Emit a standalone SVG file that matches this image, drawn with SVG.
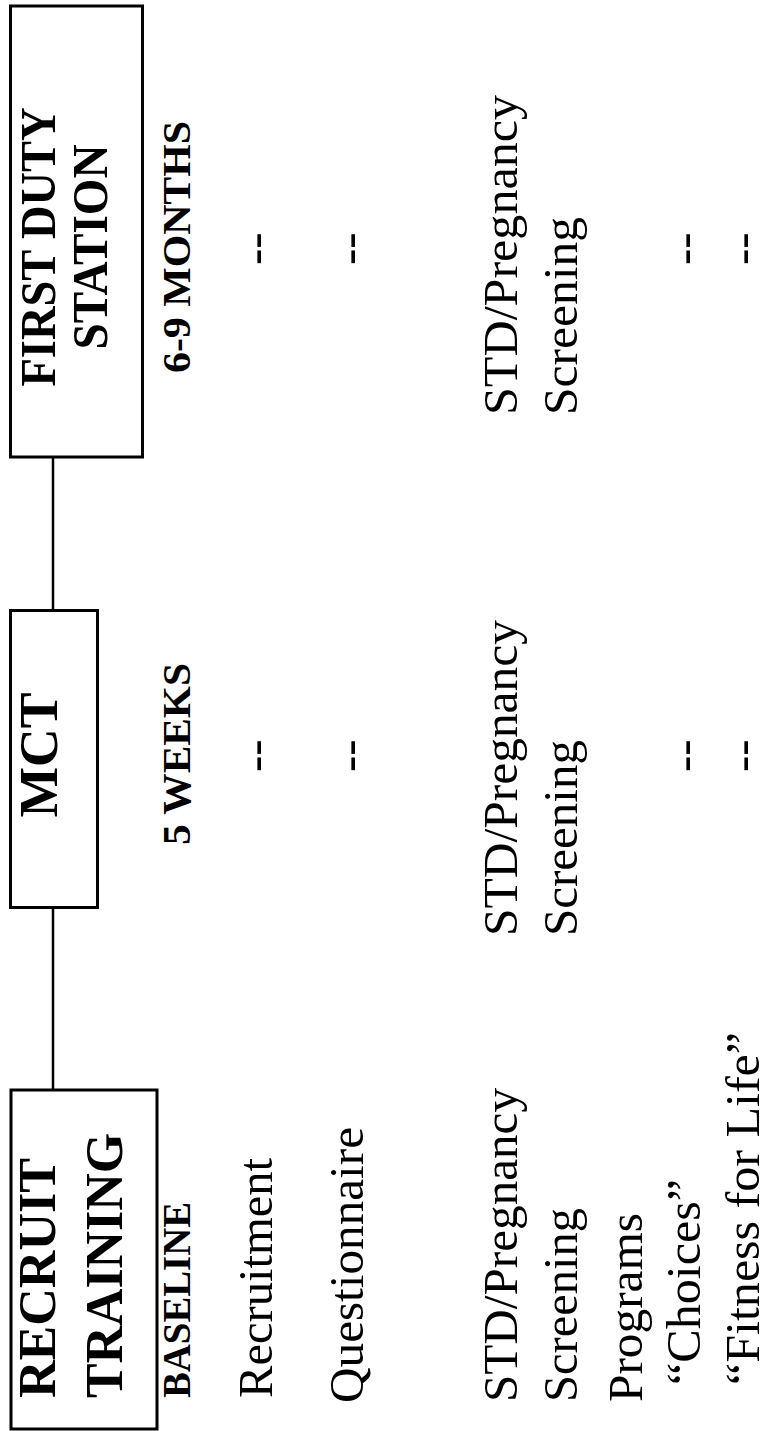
<svg xmlns="http://www.w3.org/2000/svg" width="768" height="1431" viewBox="0 0 768 1431">
<style>
text{font-family:"Liberation Serif","Times New Roman",serif;fill:#000}
.h{font-weight:bold}
.box{fill:#fff;stroke:#000;stroke-width:3}
.con{stroke:#000;stroke-width:2.5;fill:none}
.r{font-size:49px}
.d{font-size:49px}
</style>
<rect width="768" height="1431" fill="#fff"/>
<g id="connectors">
<line class="con" x1="53" y1="458" x2="53" y2="610"/>
<line class="con" x1="53" y1="908" x2="53" y2="1090"/>
</g>
<g id="node-first-duty">
<rect class="box" x="10.5" y="6" width="132" height="451"/>
<text class="h" font-size="50" text-anchor="middle" textLength="279" lengthAdjust="spacingAndGlyphs" transform="translate(55,247) rotate(-90)">FIRST DUTY</text>
<text class="h" font-size="50" text-anchor="middle" textLength="205" lengthAdjust="spacingAndGlyphs" transform="translate(107,247) rotate(-90)">STATION</text>
</g>
<g id="node-mct">
<rect class="box" x="10.5" y="610.5" width="87" height="297"/>
<text class="h" font-size="54" text-anchor="middle" textLength="125" lengthAdjust="spacingAndGlyphs" transform="translate(57,755) rotate(-90)">MCT</text>
</g>
<g id="node-recruit">
<rect class="box" x="11" y="1090" width="146" height="339"/>
<text class="h" font-size="52" textLength="240" lengthAdjust="spacingAndGlyphs" transform="translate(55,1398) rotate(-90)">RECRUIT</text>
<text class="h" font-size="52" textLength="265" lengthAdjust="spacingAndGlyphs" transform="translate(122,1398) rotate(-90)">TRAINING</text>
</g>
<g id="col-baseline">
<text class="h" font-size="41" textLength="196" lengthAdjust="spacingAndGlyphs" transform="translate(190,1398) rotate(-90)">BASELINE</text>
<text class="r" textLength="240" lengthAdjust="spacingAndGlyphs" transform="translate(272,1398) rotate(-90)">Recruitment</text>
<text class="r" textLength="276" lengthAdjust="spacingAndGlyphs" transform="translate(363,1403) rotate(-90)">Questionnaire</text>
<text class="r" textLength="314" lengthAdjust="spacingAndGlyphs" transform="translate(517,1402) rotate(-90)">STD/Pregnancy</text>
<text class="r" textLength="194" lengthAdjust="spacingAndGlyphs" transform="translate(577,1402) rotate(-90)">Screening</text>
<text class="r" textLength="189" lengthAdjust="spacingAndGlyphs" transform="translate(642,1402) rotate(-90)">Programs</text>
<text class="r" textLength="206" lengthAdjust="spacingAndGlyphs" transform="translate(700,1385) rotate(-90)">“Choices”</text>
<text class="r" font-size="48" textLength="353" lengthAdjust="spacingAndGlyphs" transform="translate(759,1385) rotate(-90)">“Fitness for Life”</text>
</g>
<g id="col-mct">
<text class="h" font-size="41" textLength="182" lengthAdjust="spacingAndGlyphs" transform="translate(190,845) rotate(-90)">5 WEEKS</text>
<text class="d" transform="translate(271,772) rotate(-90)">--</text>
<text class="d" transform="translate(365,772) rotate(-90)">--</text>
<text class="r" textLength="316" lengthAdjust="spacingAndGlyphs" transform="translate(517,936) rotate(-90)">STD/Pregnancy</text>
<text class="r" textLength="196" lengthAdjust="spacingAndGlyphs" transform="translate(577,936) rotate(-90)">Screening</text>
<text class="d" transform="translate(700,772) rotate(-90)">--</text>
<text class="d" transform="translate(758,772) rotate(-90)">--</text>
</g>
<g id="col-first-duty">
<text class="h" font-size="41" textLength="252" lengthAdjust="spacingAndGlyphs" transform="translate(190,373) rotate(-90)">6-9 MONTHS</text>
<text class="d" transform="translate(271,265) rotate(-90)">--</text>
<text class="d" transform="translate(365,265) rotate(-90)">--</text>
<text class="r" textLength="320" lengthAdjust="spacingAndGlyphs" transform="translate(517,415) rotate(-90)">STD/Pregnancy</text>
<text class="r" textLength="198" lengthAdjust="spacingAndGlyphs" transform="translate(577,415) rotate(-90)">Screening</text>
<text class="d" transform="translate(700,265) rotate(-90)">--</text>
<text class="d" transform="translate(758,265) rotate(-90)">--</text>
</g>
</svg>
